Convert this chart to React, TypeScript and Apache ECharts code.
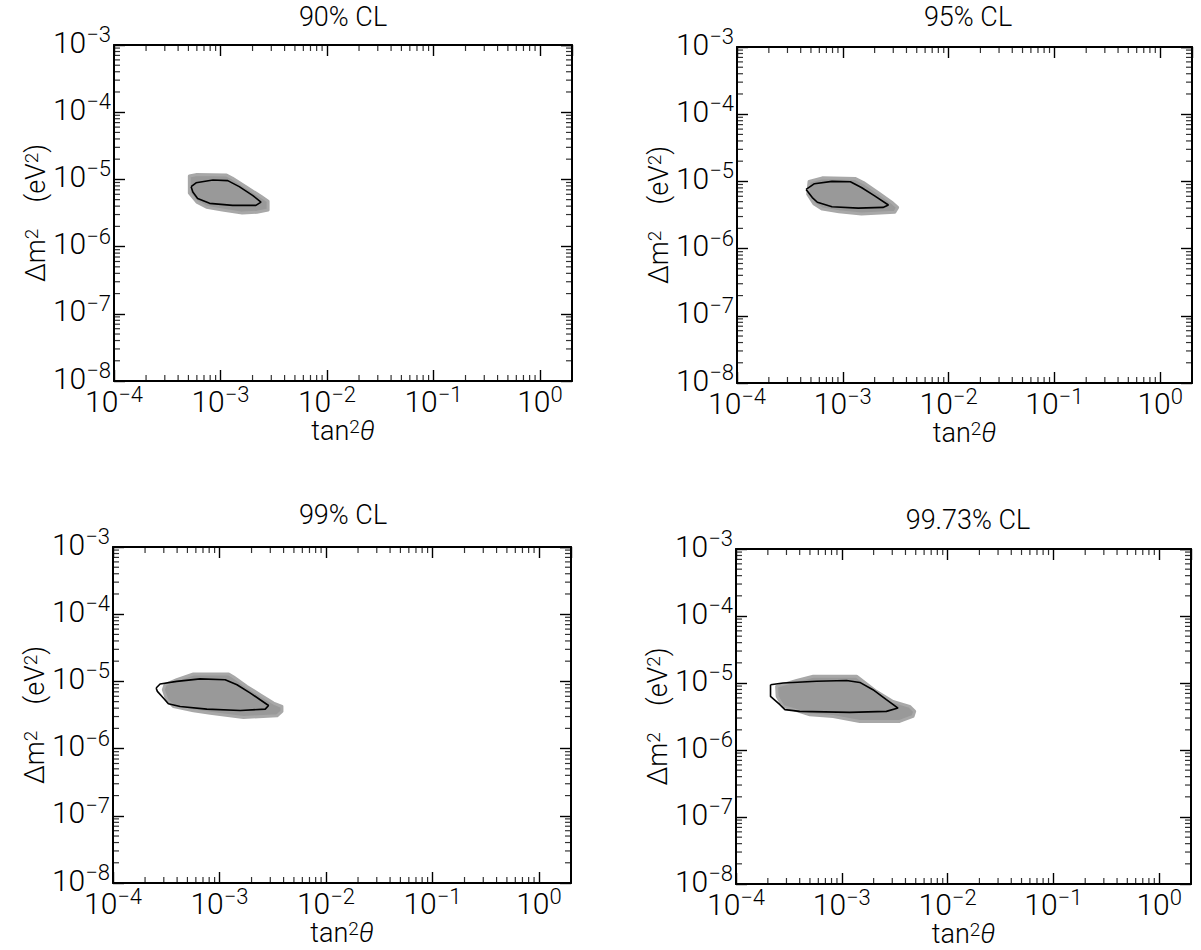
import React, { useEffect, useRef } from "react";
import * as echarts from "echarts";

const FONT = "Roboto, 'Liberation Sans', Arial, sans-serif";
const WEIGHT = 300;

const panelTitles = ["90% CL", "95% CL", "99% CL", "99.73% CL"];

const xMin = 1e-4;
const xMax = 2;
const yMin = 1e-8;
const yMax = 1e-3;
const xDecadeExponents = [-4, -3, -2, -1, 0];
const yDecadeExponents = [-8, -7, -6, -5, -4];
const minorMultipliers = [2, 3, 4, 5, 6, 7, 8, 9];

// black contour (fit) lines: [tan^2 theta, dm^2]
const contour90 = [
  [5.3e-4, 7.8e-6], [5.9e-4, 8.9e-6], [8.5e-4, 9.8e-6], [1.17e-3, 9.6e-6], [1.5e-3, 7.8e-6],
  [2.0e-3, 5.8e-6], [2.4e-3, 4.6e-6], [2.15e-3, 4.1e-6], [1.3e-3, 4.1e-6], [7.9e-4, 4.4e-6],
  [6.1e-4, 5.2e-6], [5.5e-4, 6.5e-6],
];
const contour95 = [
  [4.5e-4, 7.6e-6], [5.4e-4, 9.25e-6], [7.9e-4, 1.0e-5], [1.18e-3, 9.9e-6], [1.5e-3, 8.1e-6],
  [2.0e-3, 6.1e-6], [2.7e-3, 4.45e-6], [2.4e-3, 4.1e-6], [1.4e-3, 4.0e-6], [7.9e-4, 4.2e-6],
  [5.75e-4, 4.9e-6], [5.15e-4, 5.75e-6],
];
const contour99 = [
  [2.54e-4, 7.97e-6], [2.77e-4, 9.14e-6], [3.97e-4, 1.0e-5], [6.58e-4, 1.09e-5], [1.13e-3, 1.06e-5],
  [1.46e-3, 8.93e-6], [1.95e-3, 6.7e-6], [2.41e-3, 5.33e-6], [2.89e-3, 4.38e-6], [2.69e-3, 3.87e-6],
  [1.57e-3, 3.69e-6], [7.6e-4, 3.87e-6], [4.27e-4, 4.23e-6], [3.31e-4, 4.64e-6], [2.97e-4, 5.65e-6],
  [2.61e-4, 7.1e-6],
];
const contour9973 = [
  [2.12e-4, 9.4e-6], [2.12e-4, 6.31e-6], [2.6e-4, 4.74e-6], [2.9e-4, 4.0e-6], [4.0e-4, 3.77e-6],
  [1.19e-3, 3.64e-6], [2.64e-3, 3.77e-6], [3.4e-3, 4.23e-6], [2.64e-3, 5.64e-6], [1.97e-3, 7.94e-6],
  [1.48e-3, 1.02e-5], [1.11e-3, 1.09e-5], [5.77e-4, 1.06e-5], [2.79e-4, 1.0e-5],
];

// gray allowed regions
const gray90 = [
  [5.1e-4, 1.12e-5], [6.0e-4, 1.18e-5], [1.14e-3, 1.16e-5], [1.29e-3, 1.05e-5], [1.75e-3, 7.7e-6],
  [2.4e-3, 5.6e-6], [2.8e-3, 4.75e-6], [2.8e-3, 3.5e-6], [2.2e-3, 3.25e-6], [1.6e-3, 3.15e-6],
  [1.04e-3, 3.5e-6], [7.4e-4, 3.85e-6], [6.0e-4, 4.6e-6], [5.1e-4, 6.25e-6],
];
const gray95 = [
  [4.8e-4, 1.0e-5], [6.4e-4, 1.13e-5], [1.32e-3, 1.1e-5], [1.57e-3, 9.6e-6], [2.17e-3, 6.8e-6],
  [2.9e-3, 4.9e-6], [3.3e-3, 4.1e-6], [3.1e-3, 3.47e-6], [1.5e-3, 3.27e-6], [9.2e-4, 3.54e-6],
  [6.4e-4, 3.87e-6], [5.36e-4, 4.6e-6], [4.66e-4, 6.44e-6],
];
const gray99 = [
  [3.08e-4, 8.93e-6], [3.97e-4, 1.06e-5], [5.69e-4, 1.29e-5], [1.22e-3, 1.29e-5], [1.36e-3, 1.16e-5],
  [1.81e-3, 8.42e-6], [2.41e-3, 6.33e-6], [3.22e-3, 4.76e-6], [3.86e-3, 4.23e-6], [3.86e-3, 3.57e-6],
  [3.47e-3, 3.08e-6], [1.68e-3, 2.9e-6], [8.2e-4, 3.37e-6], [5.69e-4, 3.66e-6], [3.69e-4, 4.23e-6],
  [3.2e-4, 5.33e-6], [2.97e-4, 7.5e-6],
];
const gray9973 = [
  [2.42e-4, 8.9e-6], [3.74e-4, 1.09e-5], [5.37e-4, 1.26e-5], [1.38e-3, 1.26e-5], [1.59e-3, 1.06e-5],
  [2.12e-3, 7.5e-6], [3.05e-3, 5.31e-6], [4.38e-3, 4.47e-6], [4.89e-3, 3.77e-6], [4.71e-3, 3.17e-6],
  [3.52e-3, 2.67e-6], [1.48e-3, 2.67e-6], [8.28e-4, 3.17e-6], [4.99e-4, 3.36e-6], [2.79e-4, 4.47e-6],
  [2.45e-4, 6.31e-6],
];

const contours = [contour90, contour95, contour99, contour9973];
const regions = [gray90, gray95, gray99, gray9973];

const grids = [
  { left: 114, top: 45, width: 458, height: 336 },
  { left: 737, top: 47, width: 455, height: 336 },
  { left: 113, top: 547, width: 458, height: 336 },
  { left: 736, top: 549, width: 455, height: 335 },
];
const titlePos = [
  [343, 3],
  [968, 3],
  [343, 501],
  [968, 506],
];

const MAJOR = 11;
const MINOR = 6;

const supStyle = { fontFamily: FONT, fontWeight: WEIGHT, fontSize: 22, lineHeight: 15, verticalAlign: "top", color: "#000" };
const nameSup = { fontFamily: FONT, fontWeight: WEIGHT, fontSize: 19, lineHeight: 13, verticalAlign: "top", color: "#000" };
const itStyle = { fontFamily: FONT, fontWeight: WEIGHT, fontSize: 27, lineHeight: 28, fontStyle: "italic", color: "#000" };

function powLabel(v: number) {
  const e = Math.log10(v);
  const r = Math.round(e);
  if (Math.abs(e - r) > 1e-6) return "";
  const sup = r < 0 ? "\u2212" + -r : String(r);
  return "10{sup|" + sup + "}";
}

export default function App() {
  const ref = useRef<HTMLDivElement>(null);

  useEffect(() => {
    if (!ref.current) return;
    const chart = echarts.init(ref.current, null, { renderer: "svg" });

    const minorX: number[] = [];
    xDecadeExponents.forEach((e) =>
      minorMultipliers.forEach((m) => {
        const v = m * Math.pow(10, e);
        if (v > xMin && v < xMax) minorX.push(v);
      })
    );
    const minorY: number[] = [];
    yDecadeExponents.forEach((e) =>
      minorMultipliers.forEach((m) => {
        const v = m * Math.pow(10, e);
        if (v > yMin && v < yMax) minorY.push(v);
      })
    );

    const axisLine = { show: true, onZero: false, lineStyle: { color: "#000", width: 2 } };
    const axisTick = { show: true, inside: true, length: MAJOR, lineStyle: { color: "#000", width: 1.4 } };
    const labelBase = {
      formatter: powLabel,
      fontFamily: FONT,
      fontWeight: WEIGHT,
      fontSize: 30,
      lineHeight: 37,
      color: "#000",
      rich: { sup: supStyle },
    };
    const nameStyle = {
      fontFamily: FONT,
      fontWeight: WEIGHT,
      fontSize: 27,
      lineHeight: 28,
      color: "#000",
      rich: { sup: nameSup, it: itStyle },
    };

    const xAxis: any[] = [];
    const yAxis: any[] = [];
    const series: any[] = [];

    const tickSeries = (i: number, data: number[][], size: number[], offset: number[]) => ({
      type: "scatter",
      xAxisIndex: i * 2,
      yAxisIndex: i * 2,
      silent: true,
      clip: false,
      z: 5,
      symbol: "rect",
      symbolSize: size,
      symbolOffset: offset,
      itemStyle: { color: "#000" },
      data,
    });

    grids.forEach((g, i) => {
      xAxis.push({
        type: "log",
        logBase: 10,
        gridIndex: i,
        position: "bottom",
        min: xMin,
        max: xMax,
        axisLine,
        axisTick,
        splitLine: { show: false },
        axisLabel: { ...labelBase, margin: 2, showMinLabel: true, showMaxLabel: false },
        name: "tan{sup|2}{it|\u03b8}",
        nameLocation: "middle",
        nameGap: 36,
        nameMoveOverlap: false,
        nameTextStyle: nameStyle,
      });
      xAxis.push({
        type: "log",
        logBase: 10,
        gridIndex: i,
        position: "top",
        min: xMin,
        max: xMax,
        axisLine,
        axisTick,
        splitLine: { show: false },
        axisLabel: { show: false },
      });
      yAxis.push({
        type: "log",
        logBase: 10,
        gridIndex: i,
        position: "left",
        min: yMin,
        max: yMax,
        axisLine,
        axisTick,
        splitLine: { show: false },
        axisLabel: { ...labelBase, margin: 3, padding: [0, 0, 6, 0], showMinLabel: true, showMaxLabel: true },
        name: "\u0394m{sup|2}    (eV{sup|2})",
        nameLocation: "middle",
        nameGap: 64,
        nameMoveOverlap: false,
        nameTextStyle: nameStyle,
      });
      yAxis.push({
        type: "log",
        logBase: 10,
        gridIndex: i,
        position: "right",
        min: yMin,
        max: yMax,
        axisLine,
        axisTick,
        splitLine: { show: false },
        axisLabel: { show: false },
      });

      const region = regions[i];
      series.push({
        type: "custom",
        xAxisIndex: i * 2,
        yAxisIndex: i * 2,
        silent: true,
        z: 1,
        data: region,
        renderItem: (params: any, api: any) => {
          if (params.dataIndex !== 0) return null;
          const pts = region.map((p) => api.coord(p));
          return {
            type: "polygon",
            shape: { points: pts },
            style: { fill: "#999999", stroke: "#a8a8a8", lineWidth: 3, lineJoin: "round" },
          };
        },
      });

      const c = contours[i];
      series.push({
        type: "line",
        xAxisIndex: i * 2,
        yAxisIndex: i * 2,
        silent: true,
        z: 3,
        data: c.concat([c[0]]),
        showSymbol: false,
        symbol: "none",
        smooth: false,
        lineStyle: { color: "#000", width: 1.6 },
      });

      // minor ticks on the four sides
      series.push(tickSeries(i, minorX.map((v) => [v, yMin]), [1.2, MINOR], [0, -MINOR / 2]));
      series.push(tickSeries(i, minorX.map((v) => [v, yMax]), [1.2, MINOR], [0, MINOR / 2]));
      series.push(tickSeries(i, minorY.map((v) => [xMin, v]), [MINOR, 1.2], [MINOR / 2, 0]));
      series.push(tickSeries(i, minorY.map((v) => [xMax, v]), [MINOR, 1.2], [-MINOR / 2, 0]));
    });

    const graphic = panelTitles.map((t, i) => ({
      type: "text",
      x: titlePos[i][0],
      y: titlePos[i][1],
      silent: true,
      style: {
        text: t,
        fill: "#000",
        font: WEIGHT + " 27px " + FONT,
        textAlign: "center",
        textVerticalAlign: "top",
      },
    }));

    chart.setOption({
      animation: false,
      backgroundColor: "#fff",
      grid: grids.map((g) => ({ ...g, containLabel: false, outerBoundsMode: "none" })),
      xAxis,
      yAxis,
      series,
      graphic,
    });

    return () => chart.dispose();
  }, []);

  return (
    <div
      ref={ref}
      style={{ position: "absolute", left: 0, top: 0, width: 1201, height: 950, background: "#fff" }}
    />
  );
}
